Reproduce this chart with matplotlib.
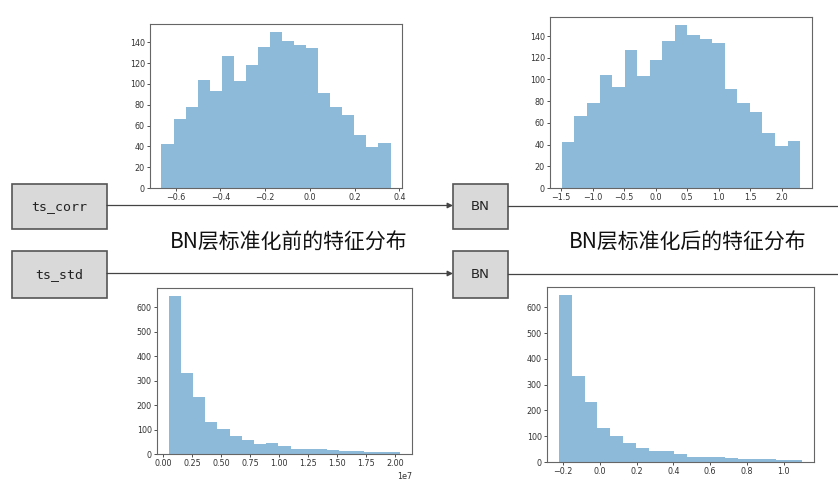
import matplotlib
matplotlib.use("Agg")
import matplotlib.pyplot as plt
import numpy as np
from matplotlib.patches import Rectangle

# counts per bin (19 bins)
corr_counts = [42, 66, 78, 104, 93, 127, 103, 118, 135, 150, 141, 137, 134, 91, 78, 70, 51, 39, 43]
std_counts = [646, 333, 231, 130, 102, 72, 56, 41, 44, 31, 21, 21, 21, 15, 12, 12, 10, 7, 8]

# data range of each histogram (min, max)
corr_raw_range = (-0.664, 0.361)
corr_bn_range = (-1.49, 2.29)
std_raw_range = (4.6e5, 2.043e7)
std_bn_range = (-0.222, 1.10)

corr_raw_ticks = [-0.6, -0.4, -0.2, 0.0, 0.2, 0.4]
corr_bn_ticks = [-1.5, -1.0, -0.5, 0.0, 0.5, 1.0, 1.5, 2.0]
std_raw_ticks = [0, 0.25e7, 0.5e7, 0.75e7, 1.0e7, 1.25e7, 1.5e7, 1.75e7, 2.0e7]
std_bn_ticks = [-0.2, 0.0, 0.2, 0.4, 0.6, 0.8, 1.0]
corr_yticks = [0, 20, 40, 60, 80, 100, 120, 140]
std_yticks = [0, 100, 200, 300, 400, 500, 600]

inputs = ["ts_corr", "ts_std"]
caption_before = "BN层标准化前的特征分布"
caption_after = "BN层标准化后的特征分布"

W, H = 838, 480
fig = plt.figure(figsize=(W / 100, H / 100), dpi=100)


def px_axes(left, top, right, bottom):
    return fig.add_axes([left / W, 1 - bottom / H, (right - left) / W, (bottom - top) / H])


# diagram layer in pixel coordinates
diag = fig.add_axes([0, 0, 1, 1])
diag.set_xlim(0, W)
diag.set_ylim(H, 0)
diag.axis("off")

box_fc = "#d9d9d9"
box_ec = "#555555"
line_c = "#444444"
rows = [(184, 229), (251, 298)]
for name, (y0, y1) in zip(inputs, rows):
    yc = (y0 + y1) / 2
    diag.add_patch(Rectangle((12, y0), 95, y1 - y0, fc=box_fc, ec=box_ec, lw=1.2))
    diag.text(59, yc, name, ha="center", va="center", fontsize=9.5,
              family="DejaVu Sans Mono", color="#222222")
    diag.add_patch(Rectangle((453, y0), 55, y1 - y0, fc=box_fc, ec=box_ec, lw=1.2))
    diag.text(480, yc, "BN", ha="center", va="center", fontsize=9.5,
              family="DejaVu Sans", color="#222222")
    diag.annotate("", xy=(453, yc - 1), xytext=(107, yc - 1),
                  arrowprops=dict(arrowstyle="-|>", color=line_c, lw=0.9,
                                  mutation_scale=8, shrinkA=0, shrinkB=0))
    diag.plot([508, W], [yc - 1, yc - 1], color=line_c, lw=0.9)

diag.text(289, 243, caption_before, ha="center", va="center", fontsize=15,
          family=["Noto Sans CJK SC", "DejaVu Sans"], color="#111111")
diag.text(688, 243, caption_after, ha="center", va="center", fontsize=15,
          family=["Noto Sans CJK SC", "DejaVu Sans"], color="#111111")


def draw_hist(ax, counts, rng, xticks, yticks):
    edges = np.linspace(rng[0], rng[1], len(counts) + 1)
    centers = (edges[:-1] + edges[1:]) / 2
    ax.hist(centers, bins=edges, weights=counts, color="#1f77b4", alpha=0.5)
    ax.set_xticks(xticks)
    ax.set_yticks(yticks)
    ax.tick_params(labelsize=5.8, length=2.2, width=0.6, pad=1.5, colors="#333333")
    ax.xaxis.get_offset_text().set_fontsize(5.8)
    for s in ax.spines.values():
        s.set_color("#666666")
        s.set_linewidth(0.8)


ax_tl = px_axes(150, 24, 402, 188)
draw_hist(ax_tl, corr_counts, corr_raw_range, corr_raw_ticks, corr_yticks)
ax_tr = px_axes(550, 17, 812, 188)
draw_hist(ax_tr, corr_counts, corr_bn_range, corr_bn_ticks, corr_yticks)
ax_bl = px_axes(157, 288, 412, 454)
draw_hist(ax_bl, std_counts, std_raw_range, std_raw_ticks, std_yticks)
ax_br = px_axes(547, 287, 814, 462)
draw_hist(ax_br, std_counts, std_bn_range, std_bn_ticks, std_yticks)

fig.savefig("out.png", dpi=100)
